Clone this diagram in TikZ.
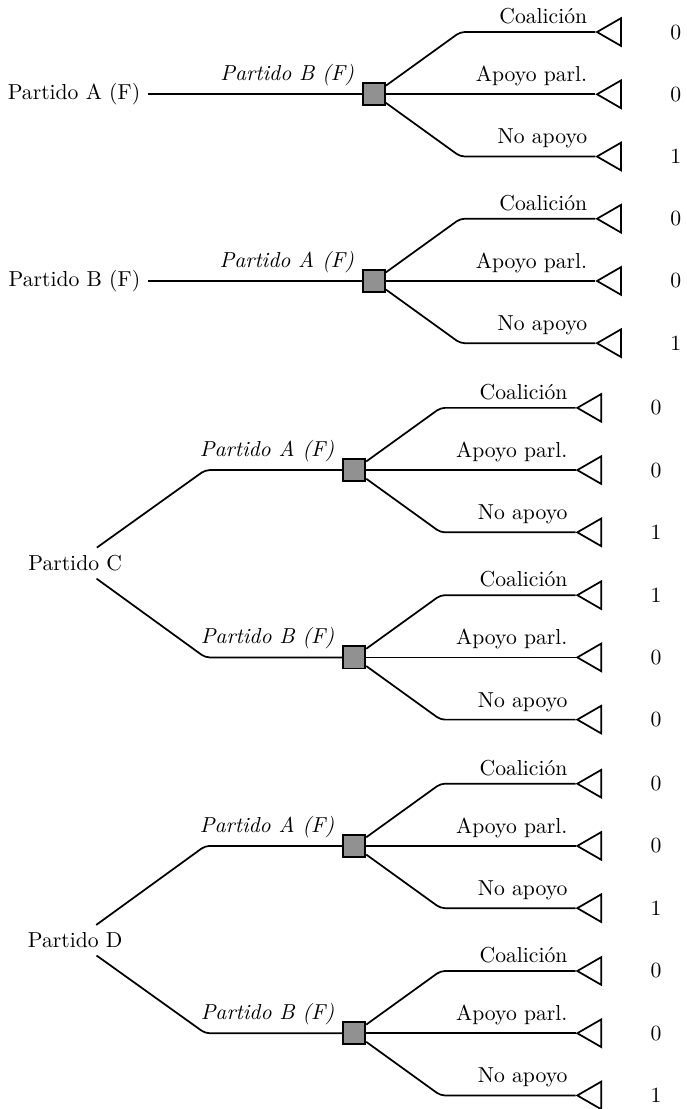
\documentclass[tikz,border=0pt]{standalone}
\usetikzlibrary{shapes.geometric}
\tikzset{branch/.style={line width=0.8pt, rounded corners=2pt},
         decision/.style={draw, line width=0.8pt, fill=black!43, minimum size=0.36cm, inner sep=0pt},
         terminal/.style={draw, line width=0.8pt, regular polygon, regular polygon sides=3,
                          shape border rotate=90, minimum size=0.52cm, inner sep=0pt},
         pics/fan/.style n args={3}{
        code={
            \node[decision] (-b) at (0,0) {};
            \coordinate (-c1) at (1.40,1.01);
            \coordinate (-c3) at (1.40,-1.01);
            \node[terminal] (-t1) at (3.88,1.01) {};
            \node[terminal] (-t2) at (3.88,0) {};
            \node[terminal] (-t3) at (3.88,-1.01) {};
            \draw[branch] (-b) -- (-c1) -- node[pos=1, above left] {Coalición} (-t1);
            \draw[branch] (-b) -- node[pos=1, above left] {Apoyo parl.} (-t2);
            \draw[branch] (-b) -- (-c3) -- node[pos=1, above left] {No apoyo} (-t3);
            \node (-p1) at (4.90,1.01) {#1};
            \node (-p2) at (4.90,0) {#2};
            \node (-p3) at (4.90,-1.01) {#3};
  }}
}
\begin{document}
\begin{tikzpicture}
\useasboundingbox (0,0) rectangle (11.15,-18.0);

% Partido A
\node[anchor=east] (rA) at (2.40,-1.53) {Partido A (F)};
\path (6.07,-1.53) pic (fa) {fan={0}{0}{1}};
\draw[branch] (rA) -- node[pos=1, above left] {\textit{Partido B (F)}} (fa-b);

% Partido B
\node[anchor=east] (rB) at (2.40,-4.56) {Partido B (F)};
\path (6.07,-4.56) pic (fb) {fan={0}{0}{1}};
\draw[branch] (rB) -- node[pos=1, above left] {\textit{Partido A (F)}} (fb-b);

% Partido C
\node (rC) at (1.22,-9.14) {Partido C};
\coordinate (cCA) at (3.33,-7.63);
\coordinate (cCB) at (3.33,-10.67);
\path (5.75,-7.63) pic (fca) {fan={0}{0}{1}};
\path (5.75,-10.67) pic (fcb) {fan={1}{0}{0}};
\draw[branch] (rC) -- (cCA) -- node[pos=1, above left] {\textit{Partido A (F)}} (fca-b);
\draw[branch] (rC) -- (cCB) -- node[pos=1, above left] {\textit{Partido B (F)}} (fcb-b);

% Partido D
\node (rD) at (1.22,-15.26) {Partido D};
\coordinate (cDA) at (3.33,-13.73);
\coordinate (cDB) at (3.33,-16.77);
\path (5.75,-13.73) pic (fda) {fan={0}{0}{1}};
\path (5.75,-16.77) pic (fdb) {fan={0}{0}{1}};
\draw[branch] (rD) -- (cDA) -- node[pos=1, above left] {\textit{Partido A (F)}} (fda-b);
\draw[branch] (rD) -- (cDB) -- node[pos=1, above left] {\textit{Partido B (F)}} (fdb-b);

\end{tikzpicture}
\end{document}
